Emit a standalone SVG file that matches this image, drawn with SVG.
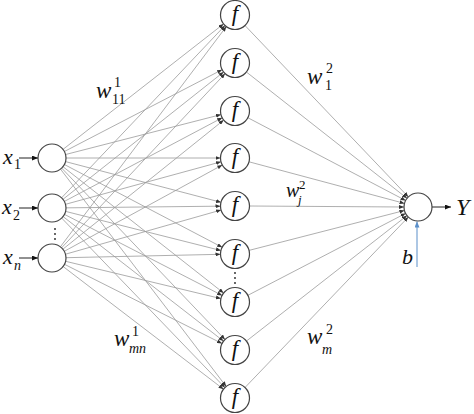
<svg xmlns="http://www.w3.org/2000/svg" width="474" height="414" viewBox="0 0 474 414">
<style>
.bg{fill:#fff}
.node{fill:#fff;stroke:#444;stroke-width:1.2}
.e{stroke:#9a9a9a;stroke-width:0.8;fill:none;marker-end:url(#ah)}
.in{stroke:#222;stroke-width:1;fill:none;marker-end:url(#ak)}
.t{font-family:'Liberation Serif','Times New Roman',serif;font-style:italic;fill:#111}
.n{font-family:'Liberation Serif','Times New Roman',serif;font-style:normal;fill:#111}
.dot{fill:#222}
</style>
<defs>
<marker id="ah" markerUnits="userSpaceOnUse" markerWidth="5" markerHeight="4" refX="5" refY="2" orient="auto"><path d="M0,0 L5,2 L0,4 z" fill="#333"/></marker>
<marker id="ak" markerUnits="userSpaceOnUse" markerWidth="6" markerHeight="5" refX="6" refY="2.5" orient="auto"><path d="M0,0 L6,2.5 L0,5 z" fill="#111"/></marker>
<marker id="ab" markerUnits="userSpaceOnUse" markerWidth="6" markerHeight="5" refX="6" refY="2.5" orient="auto"><path d="M0,0 L6,2.5 L0,5 z" fill="#5b8fc9"/></marker>
</defs>
<rect class="bg" width="474" height="414"/>
<g id="connectors">
<line class="e" x1="63.0" y1="149.4" x2="223.6" y2="23.9"/>
<line class="e" x1="64.4" y1="151.5" x2="222.1" y2="69.7"/>
<line class="e" x1="65.6" y1="154.5" x2="221.0" y2="114.6"/>
<line class="e" x1="66" y1="158" x2="220.5" y2="158"/>
<line class="e" x1="65.5" y1="161.6" x2="221.0" y2="202.3"/>
<line class="e" x1="64.4" y1="164.5" x2="222.2" y2="247.3"/>
<line class="e" x1="63.0" y1="166.7" x2="223.6" y2="293.0"/>
<line class="e" x1="61.7" y1="168.1" x2="225.0" y2="339.5"/>
<line class="e" x1="60.5" y1="169.1" x2="226.2" y2="386.5"/>
<line class="e" x1="61.6" y1="197.8" x2="225.0" y2="25.5"/>
<line class="e" x1="63.0" y1="199.3" x2="223.6" y2="72.0"/>
<line class="e" x1="64.4" y1="201.4" x2="222.2" y2="117.8"/>
<line class="e" x1="65.5" y1="204.3" x2="221.0" y2="161.8"/>
<line class="e" x1="66" y1="207.85" x2="220.5" y2="206.16"/>
<line class="e" x1="65.6" y1="211.4" x2="220.9" y2="250.5"/>
<line class="e" x1="64.5" y1="214.4" x2="222.1" y2="295.4"/>
<line class="e" x1="63.1" y1="216.6" x2="223.5" y2="341.1"/>
<line class="e" x1="61.7" y1="218.1" x2="224.9" y2="387.6"/>
<line class="e" x1="60.4" y1="246.8" x2="226.3" y2="26.6"/>
<line class="e" x1="61.6" y1="247.8" x2="225.1" y2="73.6"/>
<line class="e" x1="62.9" y1="249.2" x2="223.7" y2="120.1"/>
<line class="e" x1="64.3" y1="251.3" x2="222.3" y2="165.0"/>
<line class="e" x1="65.5" y1="254.2" x2="221.1" y2="210.0"/>
<line class="e" x1="66" y1="257.7" x2="220.5" y2="254.3"/>
<line class="e" x1="65.6" y1="261.3" x2="220.9" y2="298.6"/>
<line class="e" x1="64.5" y1="264.3" x2="222.0" y2="343.5"/>
<line class="e" x1="63.1" y1="266.5" x2="223.5" y2="389.2"/>
<line class="e" x1="245.0" y1="25.5" x2="408.3" y2="196.9"/>
<line class="e" x1="246.4" y1="72.0" x2="407.0" y2="198.3"/>
<line class="e" x1="247.8" y1="117.7" x2="405.6" y2="200.5"/>
<line class="e" x1="249.0" y1="161.8" x2="404.5" y2="203.4"/>
<line class="e" x1="249.5" y1="206" x2="404" y2="207"/>
<line class="e" x1="249.0" y1="250.4" x2="404.4" y2="210.5"/>
<line class="e" x1="247.9" y1="295.3" x2="405.6" y2="213.4"/>
<line class="e" x1="246.4" y1="341.1" x2="407.0" y2="215.6"/>
<line class="e" x1="245.0" y1="387.5" x2="408.3" y2="217.1"/>
<line class="in" x1="19" y1="158" x2="38" y2="158"/>
<line class="in" x1="19" y1="208" x2="38" y2="208"/>
<line class="in" x1="19" y1="258" x2="38" y2="258"/>
<line class="in" x1="432" y1="207" x2="451" y2="207"/>
<line x1="417" y1="267" x2="417" y2="221.5" stroke="#5b8fc9" stroke-width="1" marker-end="url(#ab)"/>
</g>
<g id="input1"><circle class="node" cx="52" cy="158" r="14"/><text class="t" x="3" y="164" font-size="22">x</text><text class="n" x="14" y="169" font-size="14">1</text></g>
<g id="input2"><circle class="node" cx="52" cy="208" r="14"/><text class="t" x="2" y="214" font-size="22">x</text><text class="n" x="13" y="220" font-size="14">2</text></g>
<g id="input-dots"><circle class="dot" cx="55" cy="229" r="0.9"/><circle class="dot" cx="55" cy="234" r="0.9"/><circle class="dot" cx="55" cy="239" r="0.9"/></g>
<g id="inputn"><circle class="node" cx="52" cy="258" r="14"/><text class="t" x="3" y="264" font-size="22">x</text><text class="t" x="14" y="270" font-size="14">n</text></g>
<g id="h1"><circle class="node" cx="235" cy="15" r="14.5"/><text class="t" x="235" y="20.5" font-size="23" text-anchor="middle">f</text></g>
<g id="h2"><circle class="node" cx="235" cy="63" r="14.5"/><text class="t" x="235" y="68.5" font-size="23" text-anchor="middle">f</text></g>
<g id="h3"><circle class="node" cx="235" cy="111" r="14.5"/><text class="t" x="235" y="116.5" font-size="23" text-anchor="middle">f</text></g>
<g id="h4"><circle class="node" cx="235" cy="158" r="14.5"/><text class="t" x="235" y="163.5" font-size="23" text-anchor="middle">f</text></g>
<g id="h5"><circle class="node" cx="235" cy="206" r="14.5"/><text class="t" x="235" y="211.5" font-size="23" text-anchor="middle">f</text></g>
<g id="h6"><circle class="node" cx="235" cy="254" r="14.5"/><text class="t" x="235" y="259.5" font-size="23" text-anchor="middle">f</text></g>
<g id="hidden-dots"><circle class="dot" cx="235" cy="273" r="0.9"/><circle class="dot" cx="235" cy="278" r="0.9"/><circle class="dot" cx="235" cy="283" r="0.9"/></g>
<g id="h7"><circle class="node" cx="235" cy="302" r="14.5"/><text class="t" x="235" y="307.5" font-size="23" text-anchor="middle">f</text></g>
<g id="h8"><circle class="node" cx="235" cy="350" r="14.5"/><text class="t" x="235" y="355.5" font-size="23" text-anchor="middle">f</text></g>
<g id="h9"><circle class="node" cx="235" cy="398" r="14.5"/><text class="t" x="235" y="403.5" font-size="23" text-anchor="middle">f</text></g>
<g id="output"><circle class="node" cx="418" cy="207" r="14"/><text class="t" x="456" y="215" font-size="24">Y</text></g>
<g id="bias"><text class="t" x="402" y="264" font-size="22">b</text></g>
<g id="labels">
<text class="t" x="96" y="98" font-size="23">w</text><text class="n" x="114" y="87" font-size="14">1</text><text class="n" x="112" y="104" font-size="14">11</text>
<text class="t" x="307" y="84" font-size="23">w</text><text class="n" x="326" y="73" font-size="14">2</text><text class="n" x="325" y="90" font-size="14">1</text>
<text class="t" x="286" y="197" font-size="20">w</text><text class="n" x="299" y="189" font-size="13">2</text><text class="t" x="298" y="204" font-size="13">j</text>
<text class="t" x="114" y="346" font-size="23">w</text><text class="n" x="132" y="336" font-size="14">1</text><text class="t" x="129" y="353" font-size="14">mn</text>
<text class="t" x="307" y="344" font-size="23">w</text><text class="n" x="326" y="334" font-size="14">2</text><text class="t" x="322" y="354" font-size="14">m</text>
</g>
</svg>
